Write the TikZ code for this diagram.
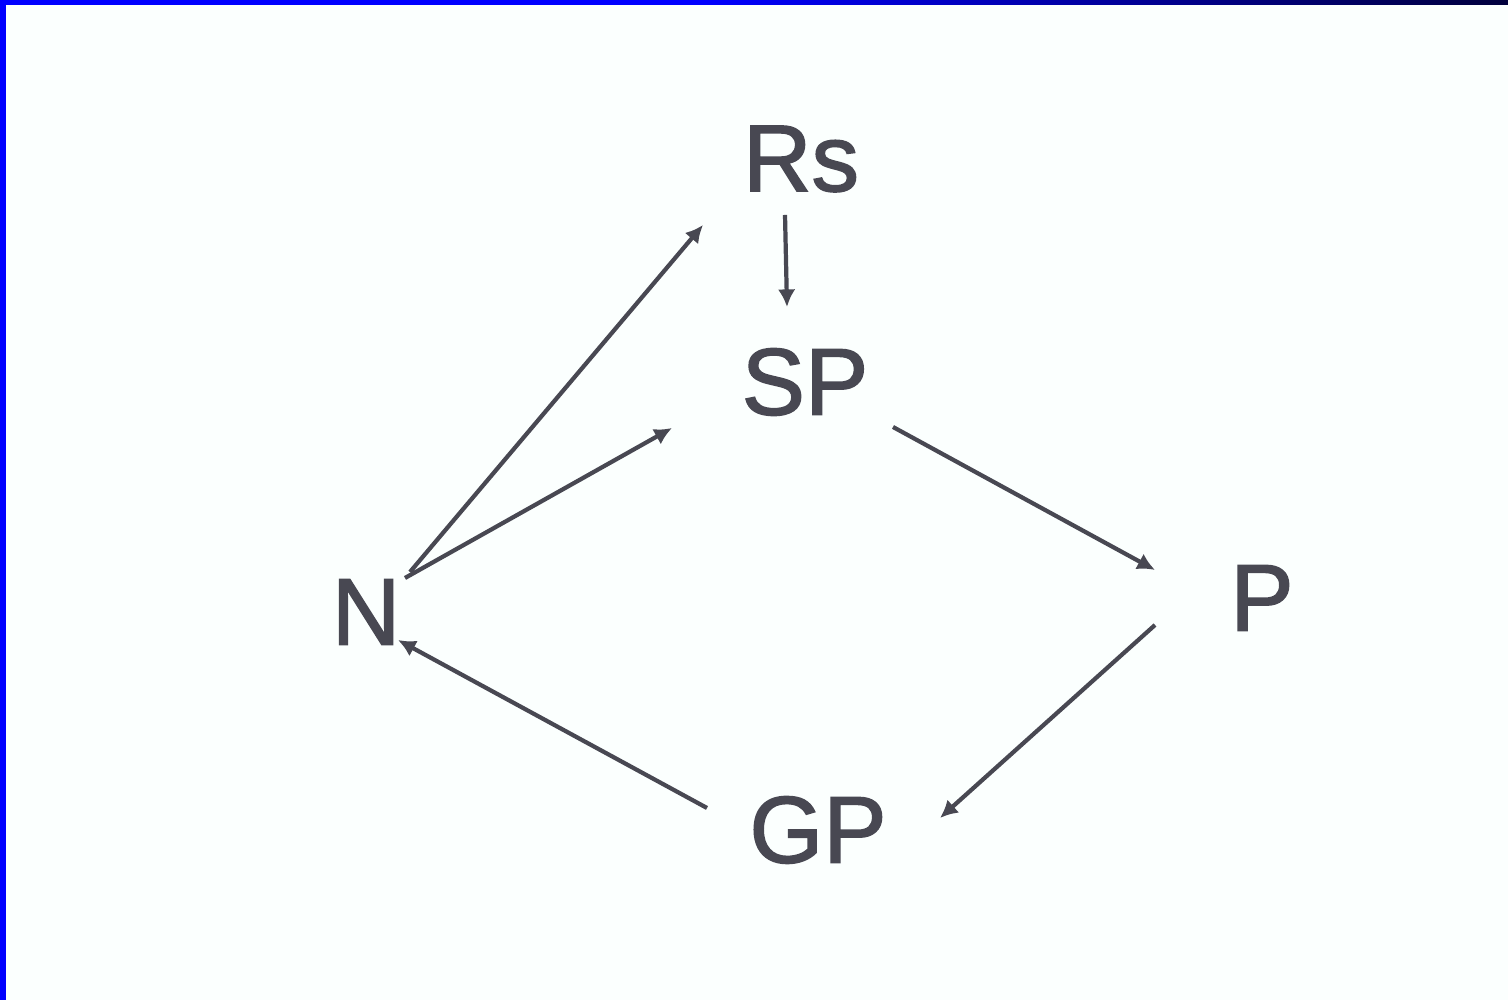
\documentclass[tikz,border=0pt]{standalone}
\usepackage{fontspec}
\setmainfont{Liberation Sans}
\newfontfamily\heavyfont[FakeBold=1.6]{Liberation Sans}
\usetikzlibrary{arrows.meta}
\definecolor{ink}{RGB}{72,72,82}
\definecolor{paper}{RGB}{251,255,254}
\definecolor{navy}{RGB}{0,0,60}
\tikzset{lbl/.style={text=ink,inner sep=0pt,font=\heavyfont\fontsize{27}{30}\selectfont},
	arr/.style={draw=ink,line width=1.2pt,-{Latex[length=5pt,width=5pt]}}}
\begin{document}
\begin{tikzpicture}
				\fill[paper] (0,0) rectangle (15.08,10);
				\fill[blue] (0,0) rectangle (0.06,10);
				\fill[blue] (0,9.95) rectangle (7,10);
				\shade[left color=blue,right color=navy] (7,9.95) rectangle (15.08,10);
				\node[lbl] (Rs) at (8.01,8.41) {Rs};
				\node[lbl] (SP) at (8.05,6.18) {SP};
				\node[lbl] (N) at (3.66,3.88) {N};
				\node[lbl] (P) at (12.62,4.02) {P};
				\node[lbl] (GP) at (8.18,1.70) {GP};
				\draw[arr] ([shift={(0.44,0.40)}]N.center) -- ([shift={(-0.98,-0.66)}]Rs.center);
				\draw[arr] ([shift={(0.39,0.34)}]N.center) -- ([shift={(-1.33,-0.46)}]SP.center);
				\draw[arr] ([shift={(-0.16,-0.56)}]Rs.center) -- ([shift={(-0.18,0.75)}]SP.center);
				\draw[arr] ([shift={(0.88,-0.45)}]SP.center) -- ([shift={(-1.07,0.28)}]P.center);
				\draw[arr] ([shift={(-1.07,-0.27)}]P.center) -- ([shift={(1.22,0.12)}]GP.center);
				\draw[arr] ([shift={(-1.11,0.22)}]GP.center) -- ([shift={(0.32,-0.28)}]N.center);
			\end{tikzpicture}
\end{document}
